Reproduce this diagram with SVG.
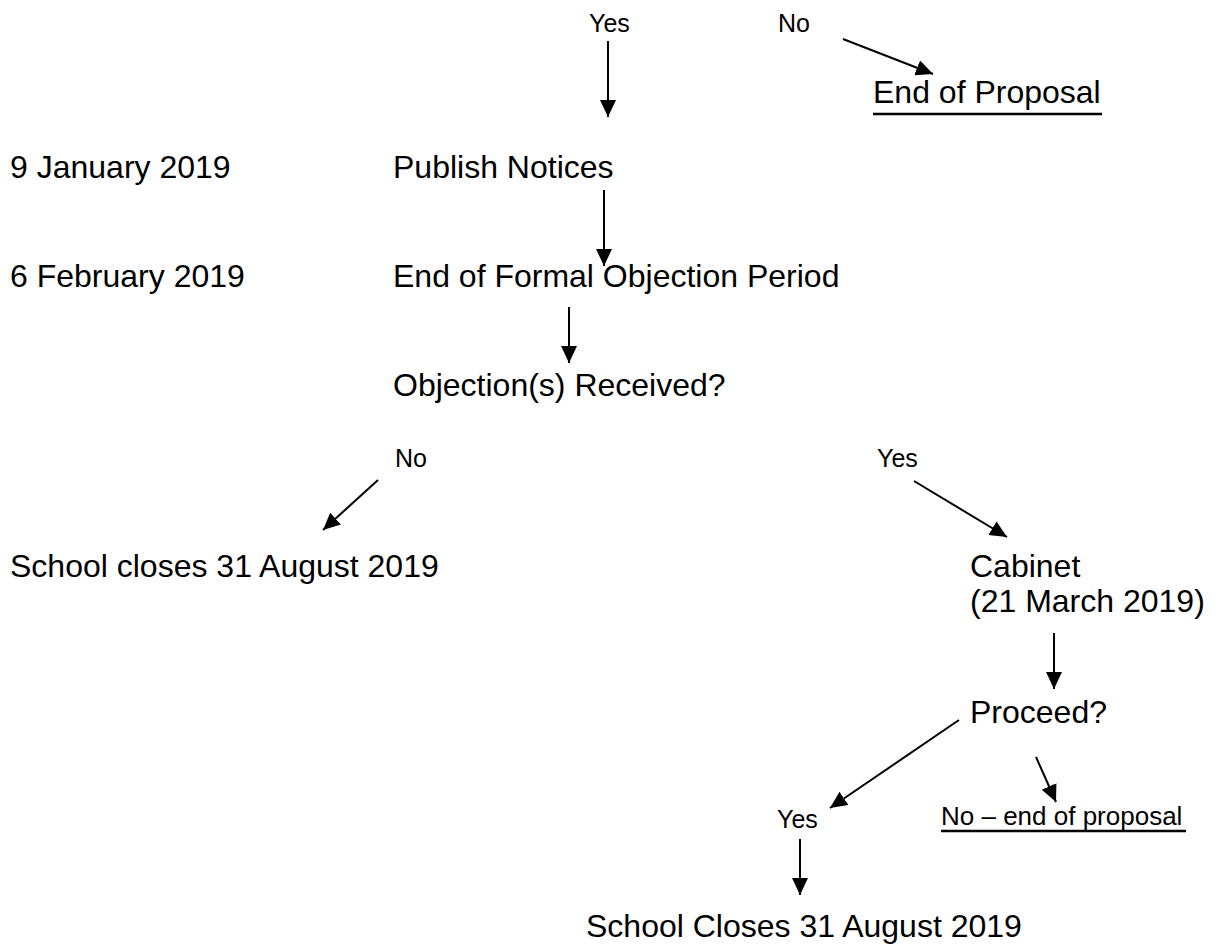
<svg xmlns="http://www.w3.org/2000/svg" width="1215" height="946" viewBox="0 0 1215 946">
<style>
text { font-family: "Liberation Sans", Arial, sans-serif; fill: #000; }
.big { font-size: 32px; }
.small { font-size: 25px; }
.conn line { stroke: #000; stroke-width: 2; marker-end: url(#arrow); }
.ul { stroke: #000; stroke-width: 2.5; }
</style>
<defs>
<marker id="arrow" markerUnits="userSpaceOnUse" markerWidth="18" markerHeight="18" refX="17" refY="8" orient="auto">
<path d="M0,0 L17,8 L0,16 z" fill="#000"/>
</marker>
</defs>
<rect width="1215" height="946" fill="#fff"/>
<g id="label-yes-top"><text class="small" x="589" y="32">Yes</text></g>
<g id="label-no-top"><text class="small" x="778" y="32">No</text></g>
<g id="end-of-proposal"><text class="big" x="873" y="103">End of Proposal</text><line class="ul" x1="873" y1="114" x2="1102" y2="114"/></g>
<g id="date-jan"><text class="big" x="10" y="178">9 January 2019</text></g>
<g id="publish-notices"><text class="big" x="393" y="178">Publish Notices</text></g>
<g id="date-feb"><text class="big" x="10" y="287">6 February 2019</text></g>
<g id="end-objection-period"><text class="big" x="393" y="287">End of Formal Objection Period</text></g>
<g id="objections-received"><text class="big" x="393" y="396">Objection(s) Received?</text></g>
<g id="label-no-mid"><text class="small" x="395" y="467">No</text></g>
<g id="label-yes-mid"><text class="small" x="877" y="467">Yes</text></g>
<g id="school-closes-1"><text class="big" x="10" y="577">School closes 31 August 2019</text></g>
<g id="cabinet"><text class="big" x="970" y="577">Cabinet</text><text class="big" x="970" y="612">(21 March 2019)</text></g>
<g id="proceed"><text class="big" x="970" y="723">Proceed?</text></g>
<g id="label-yes-low"><text class="small" x="777" y="828">Yes</text></g>
<g id="no-end-proposal"><text class="small" x="941" y="825" style="font-size:26px">No – end of proposal</text><line class="ul" x1="941" y1="831" x2="1186" y2="831"/></g>
<g id="school-closes-2"><text class="big" x="586" y="937">School Closes 31 August 2019</text></g>
<g id="connectors" class="conn">
<line x1="608" y1="41" x2="608" y2="117"/>
<line x1="843" y1="39" x2="933" y2="74"/>
<line x1="604" y1="190" x2="604" y2="266"/>
<line x1="569" y1="307" x2="569" y2="363"/>
<line x1="378" y1="480" x2="323" y2="530"/>
<line x1="914" y1="481" x2="1007" y2="537"/>
<line x1="1054" y1="633" x2="1054" y2="689"/>
<line x1="959" y1="720" x2="830" y2="808"/>
<line x1="1036" y1="757" x2="1056" y2="802"/>
<line x1="800" y1="839" x2="800" y2="895"/>
</g>
</svg>
